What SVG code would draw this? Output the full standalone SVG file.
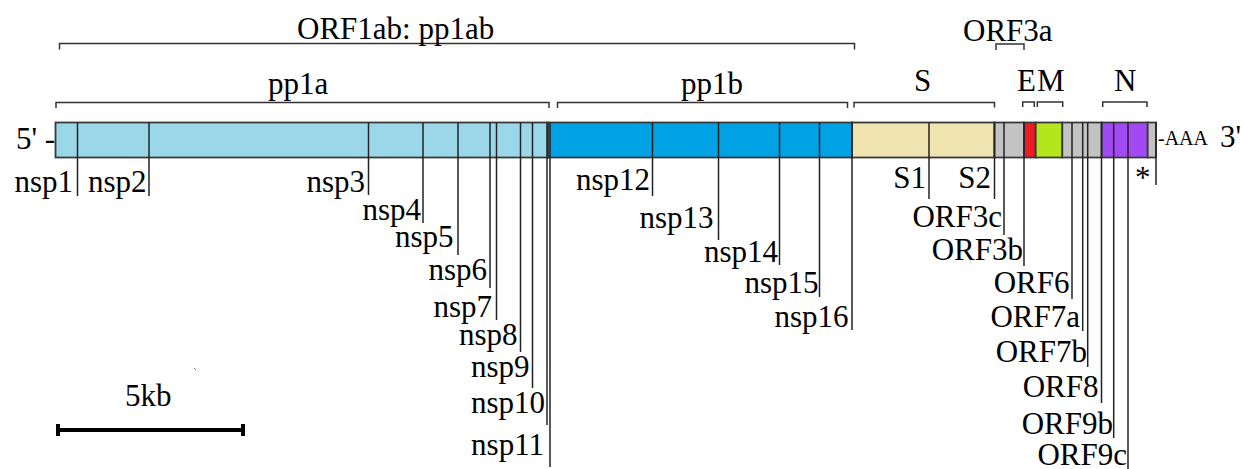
<svg xmlns="http://www.w3.org/2000/svg" width="1242" height="469" viewBox="0 0 1242 469">
  <style>
    text { font-family: "Liberation Serif", "Times New Roman", serif; font-size: 31px; fill: #000; }
    .end { text-anchor: end; }
    .small { font-size: 20px; }
    .seg { stroke: #3a3a3a; stroke-width: 1.8; }
    .brk { fill: none; stroke: #333; stroke-width: 1.5; }
    .tick { stroke: #222; stroke-width: 1.5; }
    .scale { stroke: #000; stroke-width: 4; }
  </style>

  <!-- genome bar -->
  <g id="genome">
    <rect class="seg" x="55.5" y="122.5" width="492.5" height="35" fill="#9AD8E9"/>
    <rect class="seg" x="548" y="122.5" width="304" height="35" fill="#00A2E5"/>
    <rect class="seg" x="852" y="122.5" width="142.5" height="35" fill="#EFE3B0"/>
    <rect class="seg" x="994.5" y="122.5" width="29.5" height="35" fill="#C3C3C3"/>
    <rect class="seg" x="1024" y="122.5" width="11.7" height="35" fill="#ED1C24"/>
    <rect class="seg" x="1035.7" y="122.5" width="26.6" height="35" fill="#B5E61D"/>
    <rect class="seg" x="1062.3" y="122.5" width="39.4" height="35" fill="#C3C3C3"/>
    <rect class="seg" x="1101.7" y="122.5" width="46" height="35" fill="#A349F4"/>
    <rect class="seg" x="1147.7" y="122.5" width="8.3" height="35" fill="#C3C3C3"/>
    <text x="16" y="149">5' -</text>
    <text class="small" x="1158" y="145">-AAA</text>
    <text x="1220" y="147">3'</text>
  </g>

  <!-- gene / polyprotein brackets -->
  <g id="orf1ab">
    <path class="brk" d="M59.5,49.5 V43.5 H854.5 V49.5"/>
    <text x="297" y="39">ORF1ab: pp1ab</text>
  </g>
  <g id="pp1a">
    <path class="brk" d="M56,108 V102.5 H549 V108"/>
    <text x="268" y="94">pp1a</text>
  </g>
  <g id="pp1b">
    <path class="brk" d="M557.5,108 V102.5 H847.5 V108"/>
    <text x="681" y="94">pp1b</text>
  </g>
  <g id="gene-S">
    <path class="brk" d="M854,107.5 V102.5 H994.5 V107.5"/>
    <text x="914" y="91">S</text>
  </g>
  <g id="orf3a">
    <path class="brk" d="M996,50 V44 H1024 V50"/>
    <text x="963" y="41">ORF3a</text>
  </g>
  <g id="gene-E">
    <path class="brk" d="M1022.7,107 V102 H1034.3 V107"/>
    <text x="1017" y="91">E</text>
  </g>
  <g id="gene-M">
    <path class="brk" d="M1037.3,107 V102 H1062.7 V107"/>
    <text x="1037" y="91">M</text>
  </g>
  <g id="gene-N">
    <path class="brk" d="M1102.7,107 V102 H1147 V107"/>
    <text x="1114" y="91">N</text>
  </g>

  <!-- boundary ticks running down from the bar -->
  <g id="ticks">
    <line class="tick" x1="77.5" y1="122.5" x2="77.5" y2="196"/>
    <line class="tick" x1="149" y1="122.5" x2="149" y2="196"/>
    <line class="tick" x1="368.5" y1="122.5" x2="368.5" y2="195"/>
    <line class="tick" x1="423" y1="122.5" x2="423" y2="223"/>
    <line class="tick" x1="458" y1="122.5" x2="458" y2="255"/>
    <line class="tick" x1="490" y1="122.5" x2="490" y2="288"/>
    <line class="tick" x1="496.5" y1="122.5" x2="496.5" y2="320"/>
    <line class="tick" x1="520.5" y1="122.5" x2="520.5" y2="352"/>
    <line class="tick" x1="532.5" y1="122.5" x2="532.5" y2="388"/>
    <line class="tick" x1="547" y1="122.5" x2="547" y2="425"/>
    <line class="tick" x1="550" y1="122.5" x2="550" y2="467"/>
    <line class="tick" x1="652.5" y1="122.5" x2="652.5" y2="196"/>
    <line class="tick" x1="718.5" y1="122.5" x2="718.5" y2="240"/>
    <line class="tick" x1="779.5" y1="122.5" x2="779.5" y2="265"/>
    <line class="tick" x1="819.5" y1="122.5" x2="819.5" y2="297"/>
    <line class="tick" x1="852" y1="122.5" x2="852" y2="330"/>
    <line class="tick" x1="929" y1="122.5" x2="929" y2="199"/>
    <line class="tick" x1="994.5" y1="122.5" x2="994.5" y2="199"/>
    <line class="tick" x1="1004" y1="122.5" x2="1004" y2="235"/>
    <line class="tick" x1="1024" y1="122.5" x2="1024" y2="266"/>
    <line class="tick" x1="1072" y1="122.5" x2="1072" y2="299"/>
    <line class="tick" x1="1082.7" y1="122.5" x2="1082.7" y2="331"/>
    <line class="tick" x1="1087.7" y1="122.5" x2="1087.7" y2="367"/>
    <line class="tick" x1="1101.5" y1="122.5" x2="1101.5" y2="403"/>
    <line class="tick" x1="1113.7" y1="122.5" x2="1113.7" y2="438"/>
    <line class="tick" x1="1128" y1="122.5" x2="1128" y2="469"/>
    <line class="tick" x1="1156" y1="122.5" x2="1156" y2="185"/>
  </g>

  <!-- non-structural protein labels -->
  <g id="nsp1"><text class="end" x="73" y="192">nsp1</text></g>
  <g id="nsp2"><text class="end" x="146.5" y="192">nsp2</text></g>
  <g id="nsp3"><text class="end" x="365" y="192">nsp3</text></g>
  <g id="nsp4"><text class="end" x="421" y="220">nsp4</text></g>
  <g id="nsp5"><text class="end" x="453.5" y="247">nsp5</text></g>
  <g id="nsp6"><text class="end" x="487" y="280">nsp6</text></g>
  <g id="nsp7"><text class="end" x="492" y="317">nsp7</text></g>
  <g id="nsp8"><text class="end" x="517.5" y="345">nsp8</text></g>
  <g id="nsp9"><text class="end" x="529.5" y="377">nsp9</text></g>
  <g id="nsp10"><text class="end" x="545" y="413">nsp10</text></g>
  <g id="nsp11"><text class="end" x="544" y="455">nsp11</text></g>
  <g id="nsp12"><text class="end" x="650" y="190">nsp12</text></g>
  <g id="nsp13"><text class="end" x="713.5" y="228">nsp13</text></g>
  <g id="nsp14"><text class="end" x="778" y="262">nsp14</text></g>
  <g id="nsp15"><text class="end" x="818.5" y="293">nsp15</text></g>
  <g id="nsp16"><text class="end" x="848.5" y="327">nsp16</text></g>

  <!-- structural / accessory labels -->
  <g id="S1"><text class="end" x="926" y="188">S1</text></g>
  <g id="S2"><text class="end" x="991" y="188">S2</text></g>
  <g id="orf3c"><text class="end" x="1002" y="227">ORF3c</text></g>
  <g id="orf3b"><text class="end" x="1023" y="260">ORF3b</text></g>
  <g id="orf6"><text class="end" x="1069.5" y="293">ORF6</text></g>
  <g id="orf7a"><text class="end" x="1080" y="327">ORF7a</text></g>
  <g id="orf7b"><text class="end" x="1087" y="362">ORF7b</text></g>
  <g id="orf8"><text class="end" x="1098.5" y="397">ORF8</text></g>
  <g id="orf9b"><text class="end" x="1113" y="434">ORF9b</text></g>
  <g id="orf9c"><text class="end" x="1127" y="465">ORF9c</text></g>
  <g id="stop"><text x="1135" y="188">*</text></g>

  <!-- scale bar -->
  <g id="scalebar">
    <line class="scale" x1="56" y1="430" x2="245" y2="430"/>
    <line class="scale" x1="58" y1="424" x2="58" y2="436"/>
    <line class="scale" x1="243" y1="424" x2="243" y2="436"/>
    <text x="125" y="406">5kb</text>
    <line x1="194" y1="368" x2="196" y2="370" stroke="#777" stroke-width="1"/>
  </g>
</svg>
